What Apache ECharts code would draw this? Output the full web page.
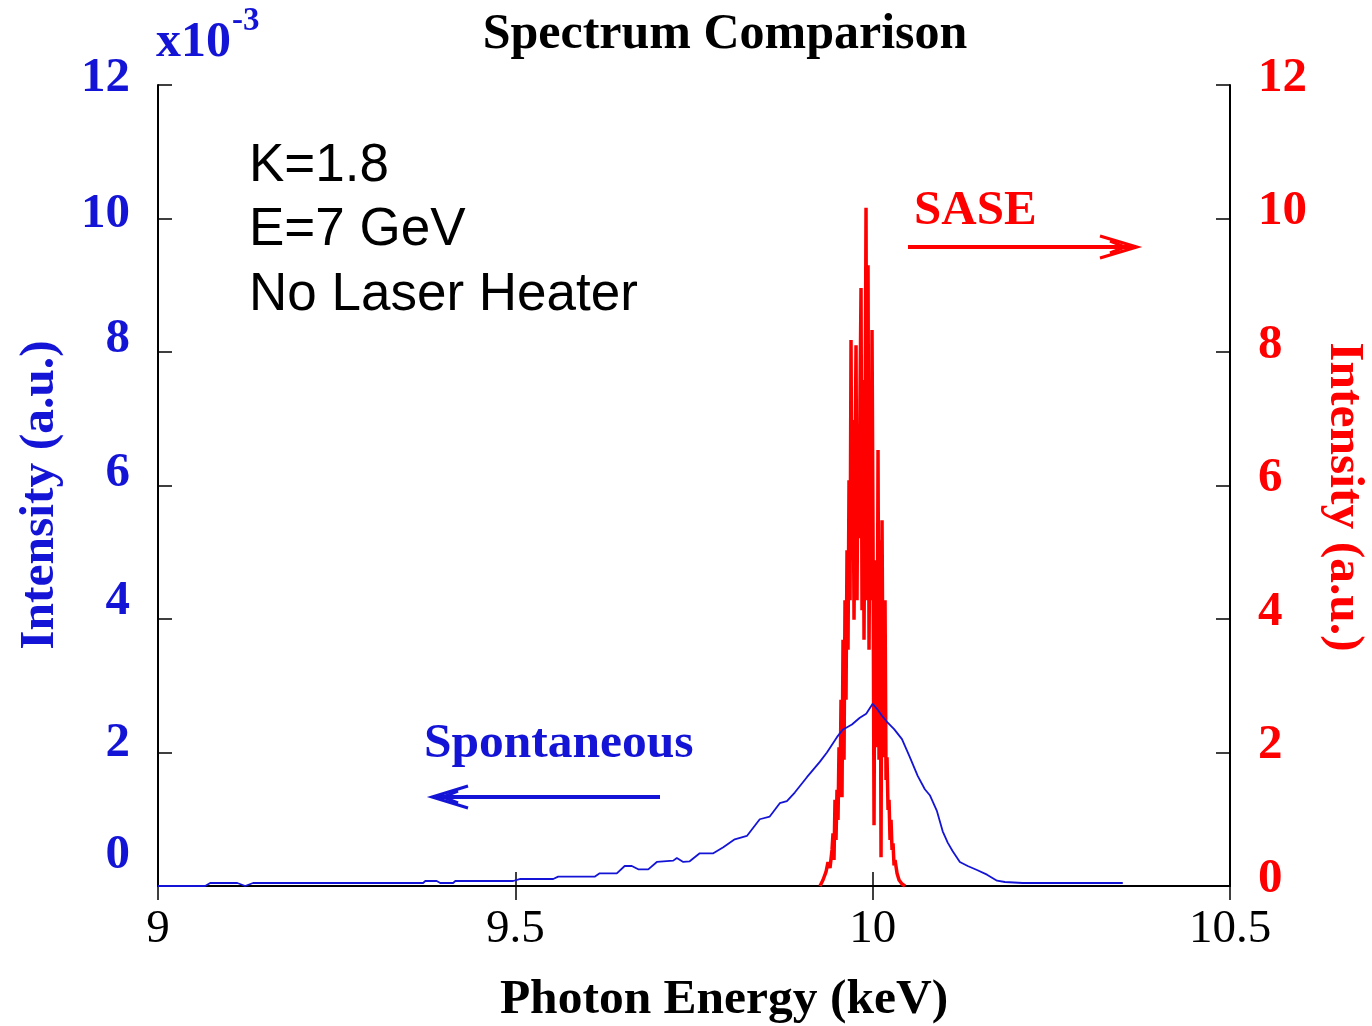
<!DOCTYPE html>
<html><head><meta charset="utf-8">
<script src="https://cdn.jsdelivr.net/npm/echarts@6/dist/echarts.min.js"></script>
<style>html,body{margin:0;padding:0;background:#fff}#c{width:1372px;height:1026px}</style>
</head><body><div id="c"></div>
<script>
// ---- Data ----
const xTicks = [9, 9.5, 10, 10.5];           // keV
const leftTicks = [0, 2, 4, 6, 8, 10, 12];    // x10^-3
const rightTicks = [0, 2, 4, 6, 8, 10, 12];

// Spontaneous spectrum (left axis, units of 1e-3)
const spontEnergy = [9.000,9.066,9.073,9.111,9.122,9.133,9.371,9.374,9.390,9.395,9.413,9.416,9.497,9.507,9.553,9.560,9.611,9.618,9.642,9.653,9.663,9.672,9.686,9.698,9.721,9.726,9.735,9.744,9.758,9.777,9.791,9.807,9.824,9.842,9.856,9.870,9.880,9.891,9.908,9.926,9.936,9.950,9.958,9.971,9.982,9.991,10.000,10.007,10.013,10.020,10.030,10.041,10.052,10.063,10.073,10.080,10.090,10.098,10.105,10.112,10.122,10.133,10.146,10.160,10.174,10.185,10.210,10.350];
const spontIntensity = [0,0,0.045,0.045,0,0.045,0.045,0.075,0.075,0.045,0.045,0.075,0.075,0.105,0.105,0.14,0.14,0.19,0.19,0.30,0.30,0.25,0.25,0.36,0.38,0.42,0.36,0.37,0.49,0.49,0.58,0.70,0.75,1.00,1.04,1.24,1.27,1.40,1.63,1.86,2.00,2.23,2.34,2.42,2.52,2.58,2.73,2.64,2.55,2.46,2.35,2.20,1.93,1.65,1.45,1.36,1.12,0.82,0.65,0.52,0.36,0.30,0.24,0.17,0.08,0.06,0.045,0.045];

// SASE spectrum (right axis)
const saseEnergy = [9.9263,9.9305,9.9347,9.9375,9.9403,9.9431,9.9445,9.9459,9.9473,9.9487,9.9501,9.9515,9.9529,9.9543,9.9557,9.9571,9.9585,9.9599,9.9613,9.9627,9.9641,9.9655,9.9669,9.9683,9.9697,9.9711,9.9725,9.9739,9.9753,9.9767,9.9781,9.9795,9.9809,9.9823,9.9837,9.9851,9.9865,9.9879,9.9893,9.9907,9.9921,9.9935,9.9949,9.9963,9.9977,9.9991,10.0005,10.0019,10.0033,10.0047,10.0061,10.0075,10.0089,10.0103,10.0117,10.0131,10.0145,10.0159,10.0173,10.0187,10.0201,10.0215,10.0229,10.0243,10.0257,10.0271,10.0285,10.0299,10.0313,10.0341,10.0369,10.0411,10.0453];
const saseIntensity = [0,0.09,0.21,0.36,0.27,0.54,0.79,0.39,1.29,0.69,1.44,0.99,2.08,1.33,2.79,1.33,3.69,1.89,4.28,2.79,5.03,3.54,6.08,4.28,8.18,4.88,6.98,3.99,6.08,8.10,4.28,6.83,5.21,7.28,8.96,4.13,7.58,3.69,6.53,10.16,4.28,9.30,3.54,6.23,4.28,8.33,5.21,0.91,4.88,3.43,2.08,6.53,1.89,5.18,0.43,5.48,2.79,1.93,4.28,1.59,1.93,1.14,1.29,0.69,0.99,0.54,0.64,0.31,0.39,0.19,0.09,0.03,0];

// ---- Chart ----
const BLUE = '#1414d6', RED = '#ff0000';
const SERIF = '"Liberation Serif","Times New Roman",serif';
const SANS = '"Liberation Sans",Arial,sans-serif';
const leftShift = {0:31, 2:9, 4:18, 6:12, 8:13, 10:4, 12:7};
const leftRich = {};
leftTicks.forEach(v => { leftRich['s' + v] = {padding: [0, 0, leftShift[v] * 2, 0], color: BLUE, fontFamily: SERIF, fontWeight: 'bold', fontSize: 49}; });
const rightRich = {};
rightTicks.forEach(v => { rightRich['s' + v] = {padding: [0, 0, 14, 0], color: RED, fontFamily: SERIF, fontWeight: 'bold', fontSize: 49}; });

const frameLine = {show: true, lineStyle: {color: '#000', width: 2}};
const tickStyle = {show: true, inside: true, length: 14, lineStyle: {color: '#000', width: 1.5}};
const chart = echarts.init(document.getElementById('c'), null, {renderer: 'canvas'});
chart.setOption({
  backgroundColor: '#fff',
  animation: false,
  grid: {left: 158, right: 142, top: 85, bottom: 140},
  xAxis: [{
    type: 'value', min: xTicks[0], max: xTicks[xTicks.length - 1], interval: 0.5, position: 'bottom',
    axisLine: frameLine, axisTick: tickStyle,
    splitLine: {show: false},
    axisLabel: {color: '#000', fontFamily: SERIF, fontSize: 47, margin: 20, formatter: v => String(v)}
  }, {
    type: 'value', min: xTicks[0], max: xTicks[xTicks.length - 1], interval: 0.5, position: 'top',
    axisLine: frameLine, axisTick: tickStyle,
    splitLine: {show: false}, axisLabel: {show: false}
  }],
  yAxis: [{
    type: 'value', min: 0, max: 12, interval: 2, position: 'left',
    axisLine: frameLine, axisTick: tickStyle,
    splitLine: {show: false},
    axisLabel: {margin: 28, formatter: v => '{s' + v + '|' + v + '}', rich: leftRich}
  }, {
    type: 'value', min: 0, max: 12, interval: 2, position: 'right',
    axisLine: frameLine, axisTick: tickStyle,
    splitLine: {show: false},
    axisLabel: {margin: 28, formatter: v => '{s' + v + '|' + v + '}', rich: rightRich}
  }],
  series: [{
    type: 'line', name: 'SASE', xAxisIndex: 0, yAxisIndex: 1, showSymbol: false, symbol: 'none',
    data: saseEnergy.map((x, i) => [x, saseIntensity[i]]),
    lineStyle: {color: RED, width: 3.5}, z: 2
  }, {
    type: 'line', name: 'Spontaneous', xAxisIndex: 0, yAxisIndex: 0, showSymbol: false, symbol: 'none',
    data: spontEnergy.map((x, i) => [x, spontIntensity[i]]),
    lineStyle: {color: BLUE, width: 1.8}, z: 3
  }],
  graphic: [
    {type: 'text', x: 725, y: 35, style: {text: 'Spectrum Comparison', fill: '#000', font: 'bold 50px ' + SERIF, align: 'center', verticalAlign: 'middle', textAlign: 'center', textVerticalAlign: 'middle'}},
    {type: 'text', x: 156, y: 43, style: {text: 'x10', fill: BLUE, font: 'bold 50px ' + SERIF, align: 'left', verticalAlign: 'middle', textAlign: 'left', textVerticalAlign: 'middle'}},
    {type: 'text', x: 232, y: 21, style: {text: '-3', fill: BLUE, font: 'bold 33px ' + SERIF, align: 'left', verticalAlign: 'middle', textAlign: 'left', textVerticalAlign: 'middle'}},
    {type: 'text', x: 249, y: 166, style: {text: 'K=1.8', fill: '#000', font: '53px ' + SANS, align: 'left', verticalAlign: 'middle', textAlign: 'left', textVerticalAlign: 'middle'}},
    {type: 'text', x: 249, y: 230, style: {text: 'E=7 GeV', fill: '#000', font: '53px ' + SANS, align: 'left', verticalAlign: 'middle', textAlign: 'left', textVerticalAlign: 'middle'}},
    {type: 'text', x: 249, y: 295, style: {text: 'No Laser Heater', fill: '#000', font: '53px ' + SANS, align: 'left', verticalAlign: 'middle', textAlign: 'left', textVerticalAlign: 'middle'}},
    {type: 'text', x: 914, y: 211, style: {text: 'SASE', fill: RED, font: 'bold 49px ' + SERIF, align: 'left', verticalAlign: 'middle', textAlign: 'left', textVerticalAlign: 'middle'}},
    {type: 'text', x: 424, y: 744, style: {text: 'Spontaneous', fill: BLUE, font: 'bold 49.5px ' + SERIF, align: 'left', verticalAlign: 'middle', textAlign: 'left', textVerticalAlign: 'middle'}},
    {type: 'text', x: 724, y: 1000, style: {text: 'Photon Energy (keV)', fill: '#000', font: 'bold 49.5px ' + SERIF, align: 'center', verticalAlign: 'middle', textAlign: 'center', textVerticalAlign: 'middle'}},
    {type: 'text', x: 40, y: 495, rotation: Math.PI / 2, style: {text: 'Intensity (a.u.)', fill: BLUE, font: 'bold 49.5px ' + SERIF, align: 'center', verticalAlign: 'middle', textAlign: 'center', textVerticalAlign: 'middle'}},
    {type: 'text', x: 1344, y: 497, rotation: -Math.PI / 2, style: {text: 'Intensity (a.u.)', fill: RED, font: 'bold 49.5px ' + SERIF, align: 'center', verticalAlign: 'middle', textAlign: 'center', textVerticalAlign: 'middle'}},
    // SASE arrow (pointing right)
    {type: 'line', shape: {x1: 908, y1: 247, x2: 1135, y2: 247}, style: {stroke: RED, lineWidth: 4}},
    {type: 'polyline', shape: {points: [[1100, 236], [1137, 247], [1100, 258]]}, style: {stroke: RED, lineWidth: 3, fill: null}},
    {type: 'polyline', shape: {points: [[1110, 241], [1125, 247], [1110, 253]]}, style: {stroke: RED, lineWidth: 3, fill: null}},
    // Spontaneous arrow (pointing left)
    {type: 'line', shape: {x1: 434, y1: 797, x2: 660, y2: 797}, style: {stroke: BLUE, lineWidth: 4}},
    {type: 'polyline', shape: {points: [[468, 786], [432, 797], [468, 808]]}, style: {stroke: BLUE, lineWidth: 3, fill: null}},
    {type: 'polyline', shape: {points: [[458, 791], [443, 797], [458, 803]]}, style: {stroke: BLUE, lineWidth: 3, fill: null}}
  ]
});
</script></body></html>
